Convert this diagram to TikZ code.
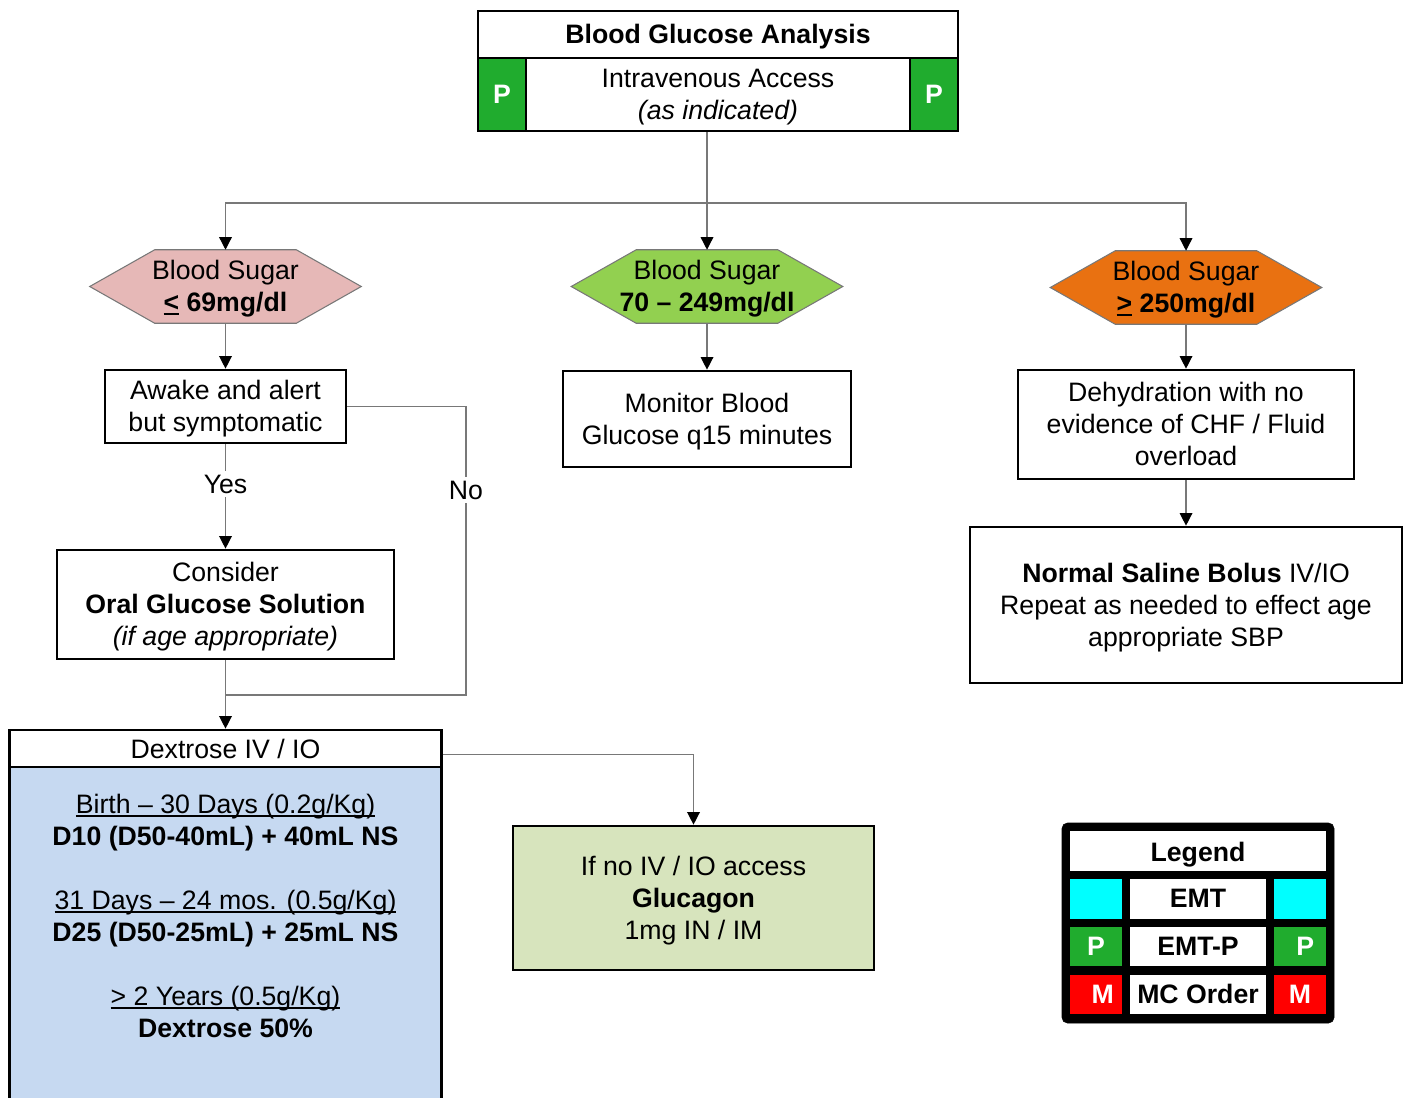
\documentclass[tikz,border=0pt]{standalone}
\usepackage{fontspec}
\setmainfont{Liberation Sans}
\usetikzlibrary{arrows.meta,calc,backgrounds}
\definecolor{pgreen}{RGB}{32,172,46}
\definecolor{hpink}{RGB}{230,184,183}
\definecolor{hgreen}{RGB}{146,208,80}
\definecolor{horange}{RGB}{233,113,17}
\definecolor{dblue}{RGB}{198,217,241}
\definecolor{ggreen}{RGB}{215,228,189}
\definecolor{lgray}{RGB}{120,120,120}
\definecolor{lcyan}{RGB}{0,255,255}
\definecolor{lred}{RGB}{255,0,0}
\newcommand{\wstrut}{\rule[-4.2pt]{0pt}{22.3pt}}
\newcommand{\myul}[1]{\setbox0\hbox{#1}\rlap{\rule[-2.4pt]{\wd0}{1.1pt}}\box0\relax}
\newcommand{\hexdraw}[2]{%
  \begin{scope}[on background layer]
  \path[draw=lgray,line width=0.8pt,fill=#2] (#1.west) -- ($(#1.north west)+(65,0)$) -- ($(#1.north east)+(-65,0)$) -- (#1.east) -- ($(#1.south east)+(-65,0)$) -- ($(#1.south west)+(65,0)$) -- cycle;
  \end{scope}}
\begin{document}
\begin{tikzpicture}[x=0.75pt,y=-0.75pt,
  every node/.style={font=\fontsize{20}{24}\selectfont},
  sz/.style 2 args={minimum width=#1*0.75pt,minimum height=#2*0.75pt},
  box/.style={draw=black,line width=2pt,fill=white,inner sep=0pt,align=center},
  ws/.style={execute at begin node=\wstrut,execute at end node=\wstrut},
  pcell/.style={box,fill=pgreen,text=white,font=\fontsize{20}{24}\selectfont\bfseries},
  hexnode/.style={inner sep=0pt,align=center,sz={271}{73}},
  line/.style={draw=lgray,line width=1pt},
  arr/.style={line,-{Triangle[color=black,length=9.5pt,width=9.5pt]}},
  lbl/.style={fill=white,inner sep=3pt},
  cell/.style={fill=white,inner sep=0pt,align=center,font=\fontsize{20}{24}\selectfont\bfseries},
  ]
\useasboundingbox (0,0) rectangle (1406,1097);

% top box
\node[box,sz={480}{47},font=\fontsize{20}{24}\selectfont\bfseries] (title) at (718,34.5) {\wstrut Blood Glucose Analysis};
\node[box,sz={384}{73}] (iv) at (718,94.5) {\wstrut Intravenous Access\\\textit{(as indicated)}\wstrut};
\node[pcell,sz={48}{73}] (pl) at (502,94.5) {P};
\node[pcell,sz={48}{73}] (pr) at (934,94.5) {P};

% hexagons
\node[hexnode] (h1) at (225.5,286.5) {\wstrut Blood Sugar\\\textbf{\myul{<} 69mg/dl}\wstrut};
\hexdraw{h1}{hpink}
\node[hexnode] (h2) at (707,286.5) {\wstrut Blood Sugar\\\textbf{70 – 249mg/dl}\wstrut};
\hexdraw{h2}{hgreen}
\node[hexnode] (h3) at (1186,287.5) {\wstrut Blood Sugar\\\textbf{\myul{>} 250mg/dl}\wstrut};
\hexdraw{h3}{horange}

% boxes
\node[box,sz={288}{96}] (mon) at (707,419) {\wstrut Monitor Blood\\Glucose q15 minutes\wstrut};
\node[box,sz={336}{109}] (dehy) at (1186,424.5) {\wstrut Dehydration with no\\evidence of CHF / Fluid\\overload\wstrut};
\node[box,sz={432}{156}] (ns) at (1186,605) {\wstrut\textbf{Normal Saline Bolus} IV/IO\\Repeat as needed to effect age\\appropriate SBP\wstrut};
\node[box,sz={241}{73}] (awake) at (225.5,406.5) {\wstrut Awake and alert\\but symptomatic\wstrut};
\node[box,sz={337}{109}] (consider) at (225.5,604.5) {\wstrut Consider\\\textbf{Oral Glucose Solution}\\\textit{(if age appropriate)}\wstrut};

% dextrose
\path[draw=black,line width=2pt,fill=dblue] (9.5,767) rectangle (441.5,1120);
\node[box,sz={432}{37}] (dexh) at (225.5,748.5) {Dextrose IV / IO};
\node[inner sep=0pt,align=center] (dbody) at (225.5,916) {\myul{Birth – 30 Days (0.2g/Kg)}\\\textbf{D10 (D50-40mL) + 40mL NS}\\[24pt]\myul{31 Days – 24 mos. (0.5g/Kg)}\\\textbf{D25 (D50-25mL) + 25mL NS}\\[24pt]\myul{> 2 Years (0.5g/Kg)}\\\textbf{Dextrose 50\%}};

\node[box,fill=ggreen,sz={361}{144}] (gluc) at (693.5,898) {\wstrut If no IV / IO access\\\textbf{Glucagon}\\1mg IN / IM\wstrut};

% connectors
\coordinate (split) at (707,203);
\draw[line] (iv.south -| split) -- (split);
\draw[arr] (split) -- (h2.north);
\draw[arr] (split) -| (h1.north);
\draw[arr] (split) -| (h3.north);
\draw[arr] (h1.south) -- (awake.north);
\draw[arr] (h2.south) -- (mon.north);
\draw[arr] (h3.south) -- (dehy.north);
\draw[arr] (dehy.south) -- (ns.north);
\draw[arr] (awake.south) -- (consider.north);
\node[lbl] (yes) at (225.5,484) {Yes};
\coordinate (join) at (225.5,695);
\coordinate (nocorner) at (466,695);
\draw[line] (awake.east) -| (nocorner) -- (join);
\node[lbl] (no) at (466,490) {No};
\draw[arr] (consider.south) -- (dexh.north);
\draw[arr] ($(dexh.east)+(0,6)$) -| (gluc.north);

% legend
\node[draw=black,fill=black,rounded corners=4pt,sz={272}{200}] (legend) at (1198,923) {};
\node[cell,ws,sz={256}{40}] (lgt) at (1198,850.5) {\raisebox{-2pt}{Legend}};
\node[cell,fill=lcyan,sz={52}{40}] (c1l) at (1096,898.5) {};
\node[cell,ws,sz={136}{40}] (c1m) at (1198,898.5) {EMT};
\node[cell,fill=lcyan,sz={52}{40}] (c1r) at (1300,898.5) {};
\node[cell,ws,fill=pgreen,text=white,sz={52}{39}] (c2l) at (1096,946.5) {P};
\node[cell,ws,sz={136}{39}] (c2m) at (1198,946.5) {EMT-P};
\node[cell,ws,fill=pgreen,text=white,sz={52}{39}] (c2r) at (1300,946.5) {\hspace*{8pt}P};
\node[cell,ws,fill=lred,text=white,sz={52}{39}] (c3l) at (1096,994.5) {\hspace*{10pt}M};
\node[cell,ws,sz={136}{39}] (c3m) at (1198,994.5) {MC Order};
\node[cell,ws,fill=lred,text=white,sz={52}{39}] (c3r) at (1300,994.5) {M};
\end{tikzpicture}
\end{document}
